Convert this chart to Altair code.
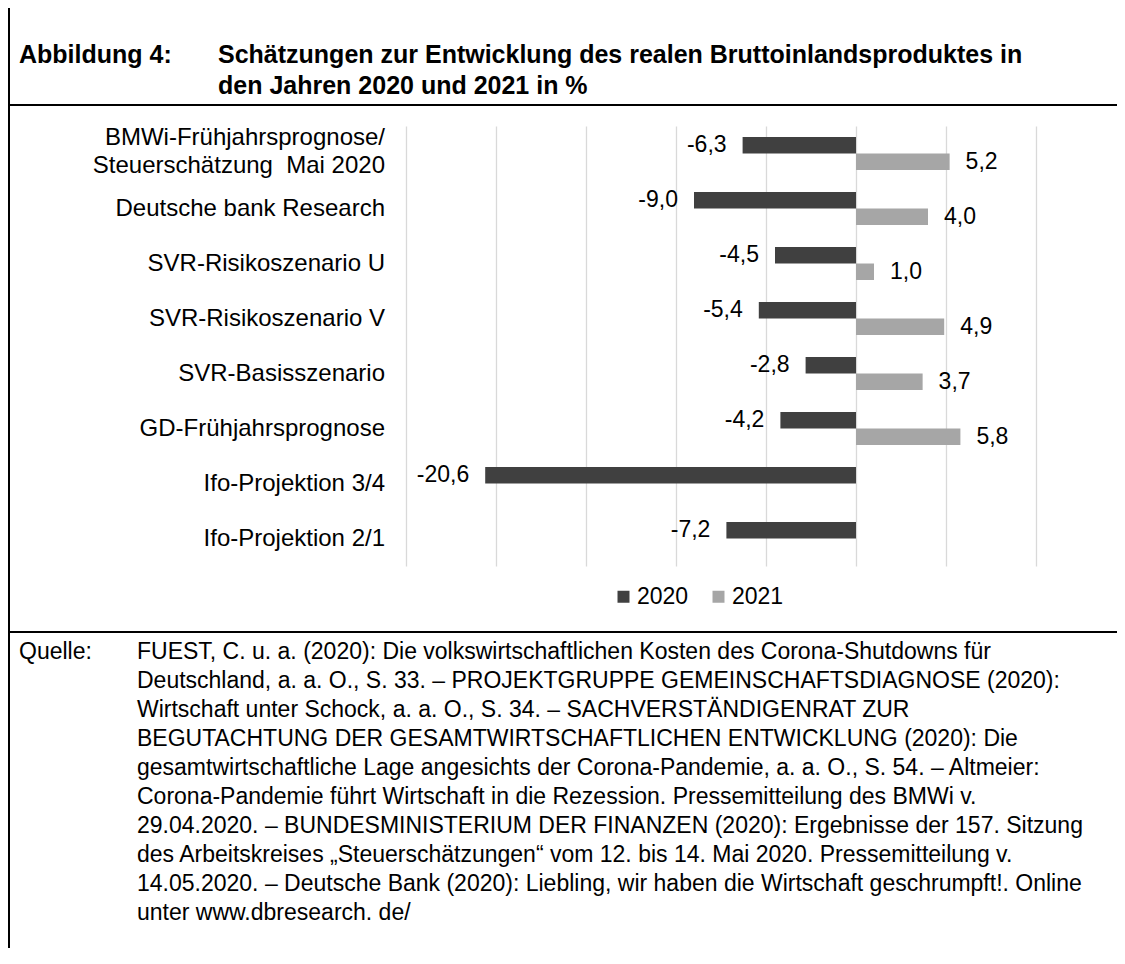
import altair as alt
import pandas as pd

categories = [
    "BMWi-Frühjahrsprognose/\nSteuerschätzung\u00a0 Mai 2020",
    "Deutsche bank Research",
    "SVR-Risikoszenario U",
    "SVR-Risikoszenario V",
    "SVR-Basisszenario",
    "GD-Frühjahrsprognose",
    "Ifo-Projektion 3/4",
    "Ifo-Projektion 2/1",
]
values_2020 = [-6.3, -9.0, -4.5, -5.4, -2.8, -4.2, -20.6, -7.2]
values_2021 = [5.2, 4.0, 1.0, 4.9, 3.7, 5.8, None, None]
years = ["2020", "2021"]
colors = ["#404040", "#a6a6a6"]
grid_values = [-25, -20, -15, -10, -5, 0, 5, 10]

title_number = "Abbildung 4:"
title_lines = [
    "Schätzungen zur Entwicklung des realen Bruttoinlandsproduktes in",
    "den Jahren 2020 und 2021 in %",
]
source_label = "Quelle:"
source_lines = [
    "FUEST, C. u. a. (2020): Die volkswirtschaftlichen Kosten des Corona-Shutdowns für",
    "Deutschland, a. a. O., S. 33. – PROJEKTGRUPPE GEMEINSCHAFTSDIAGNOSE (2020):",
    "Wirtschaft unter Schock, a. a. O., S. 34. – SACHVERSTÄNDIGENRAT ZUR",
    "BEGUTACHTUNG DER GESAMTWIRTSCHAFTLICHEN ENTWICKLUNG (2020): Die",
    "gesamtwirtschaftliche Lage angesichts der Corona-Pandemie, a. a. O., S. 54. – Altmeier:",
    "Corona-Pandemie führt Wirtschaft in die Rezession. Pressemitteilung des BMWi v.",
    "29.04.2020. – BUNDESMINISTERIUM DER FINANZEN (2020): Ergebnisse der 157. Sitzung",
    "des Arbeitskreises „Steuerschätzungen“ vom 12. bis 14. Mai 2020. Pressemitteilung v.",
    "14.05.2020. – Deutsche Bank (2020): Liebling, wir haben die Wirtschaft geschrumpft!. Online",
    "unter www.dbresearch. de/",
]

FONT = "Liberation Sans"

rows = []
for cat, a, b in zip(categories, values_2020, values_2021):
    for yr, v in zip(years, [a, b]):
        if v is not None:
            rows.append({"cat": cat, "year": yr, "value": v,
                         "label": f"{v:.1f}".replace(".", ",")})
df = pd.DataFrame(rows)
cat_df = pd.DataFrame({"cat": categories})

# plot area origin on page: (406, 126)
OX, OY = 406, 126
W, H = 630, 440

y_enc = alt.Y("cat:N", sort=categories, axis=None,
              scale=alt.Scale(domain=categories, paddingInner=0.4, paddingOuter=0.2))
yoff_enc = alt.YOffset("year:N", sort=years,
                       scale=alt.Scale(domain=years, paddingInner=0, paddingOuter=0))
x_scale = alt.Scale(domain=[-25, 10], nice=False, zero=False)

bars = alt.Chart(df).mark_bar().encode(
    x=alt.X("value:Q", scale=x_scale,
            axis=alt.Axis(values=grid_values, grid=True, labels=False, ticks=False,
                          domain=False, title=None, gridColor="#d9d9d9", gridWidth=1.3)),
    y=y_enc,
    yOffset=yoff_enc,
    color=alt.Color("year:N", sort=years,
                    scale=alt.Scale(domain=years, range=colors),
                    legend=alt.Legend(orient="none", legendX=206, legendY=459,
                                      direction="horizontal", title=None,
                                      symbolType="square", symbolSize=144,
                                      symbolStrokeWidth=0, labelFontSize=23,
                                      labelFont=FONT, labelColor="#000000",
                                      labelOffset=2, columnPadding=18)),
)

lab2020 = alt.Chart(df).transform_filter(alt.datum.year == "2020").mark_text(
    align="right", baseline="middle", dx=-16, fontSize=23, font=FONT, color="#000000"
).encode(x=alt.X("value:Q", scale=x_scale), y=y_enc, yOffset=yoff_enc, text="label:N")

lab2021 = alt.Chart(df).transform_filter(alt.datum.year == "2021").mark_text(
    align="left", baseline="middle", dx=16, fontSize=23, font=FONT, color="#000000"
).encode(x=alt.X("value:Q", scale=x_scale), y=y_enc, yOffset=yoff_enc, text="label:N")

cat_single = alt.Chart(cat_df).transform_filter(
    "indexof(datum.cat, '\\n') < 0"
).mark_text(
    align="right", baseline="middle", fontSize=24, font=FONT, color="#000000"
).encode(x=alt.value(385 - OX), y=y_enc, text="cat:N")

cat_multi = alt.Chart(cat_df).transform_filter(
    "indexof(datum.cat, '\\n') >= 0"
).mark_text(
    align="right", baseline="middle", fontSize=24, font=FONT, color="#000000",
    lineBreak="\n", lineHeight=28, dy=-16
).encode(x=alt.value(385 - OX), y=y_enc, text="cat:N")


def txt(s, px, py, bold=False, size=24, line_height=None, baseline="alphabetic"):
    kw = dict(align="left", baseline=baseline, fontSize=size, font=FONT,
              color="#000000", fontWeight="bold" if bold else "normal")
    if line_height:
        kw.update(lineBreak="\n", lineHeight=line_height)
    return alt.Chart(pd.DataFrame({"t": [s]})).mark_text(**kw).encode(
        x=alt.value(px - OX), y=alt.value(py - OY), text="t:N")


def rule(x1, y1, x2, y2, w=2):
    return alt.Chart(pd.DataFrame({"k": [0]})).mark_rule(
        color="#000000", strokeWidth=w).encode(
        x=alt.value(x1 - OX), x2=alt.value(x2 - OX),
        y=alt.value(y1 - OY), y2=alt.value(y2 - OY))


title_layers = [
    txt(title_number, 19, 63, bold=True, size=25),
    txt(title_lines[0], 218, 63, bold=True, size=25),
    txt(title_lines[1], 218, 94, bold=True, size=25),
]
source_layers = [
    txt(source_label, 19, 659, size=23),
    txt("\n".join(source_lines), 137, 659, size=23, line_height=29),
]
frame = [
    rule(9, 5, 9, 948),
    rule(8, 5, 1117, 5),
    rule(8, 105, 1117, 105),
    rule(8, 632, 1117, 632),
]

chart = alt.layer(
    bars, lab2020, lab2021, cat_single, cat_multi, *title_layers, *source_layers, *frame
).properties(
    width=W, height=H,
    autosize=alt.AutoSizeParams(type="none"),
    padding={"left": OX - 8, "top": OY - 8, "right": 1117 - (OX + W), "bottom": 948 - (OY + H)},
).configure(background="#ffffff").configure_view(stroke=None)

chart.save("out.html", embed_options={"renderer": "svg", "actions": False})
